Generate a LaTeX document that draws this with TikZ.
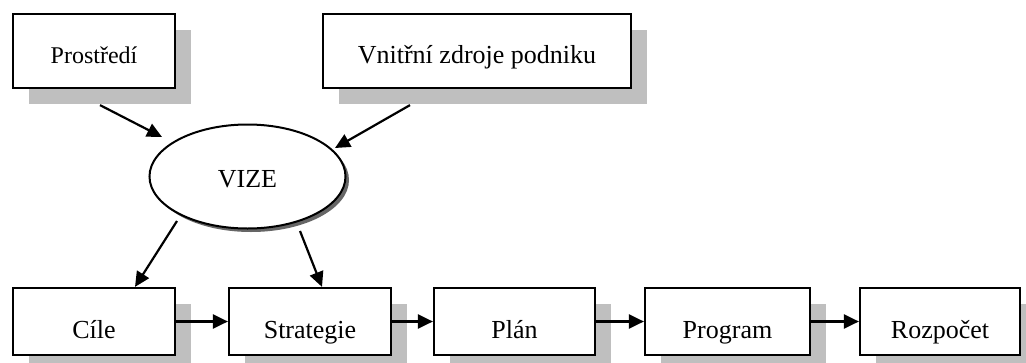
\documentclass[tikz,border=0pt]{standalone}
\usepackage{fontspec}
\setmainfont{Liberation Serif}
\usetikzlibrary{arrows.meta,shadows,calc,shapes.geometric}
\begin{document}
\begin{tikzpicture}[x=1pt,y=-1pt,
  box/.style={draw=black,line width=2.2pt,fill=white,inner sep=0pt,
    font=\fontsize{26}{30}\selectfont,text height=36pt,text depth=3pt,
    drop shadow={shadow xshift=16pt,shadow yshift=-16pt,fill=black!25,opacity=1}},
  topbox/.style={box,text height=28pt,text depth=4pt},
  oval/.style={ellipse,draw=black,line width=2pt,fill=white,inner sep=0pt,
    font=\fontsize{26}{30}\selectfont,text height=25pt,text depth=4pt,
    drop shadow={shadow xshift=3.5pt,shadow yshift=-3.5pt,fill=black!60,opacity=1}},
  arr/.style={line width=2.2pt,-{Triangle[length=15pt,width=14pt]}},
]
\useasboundingbox (0,0) rectangle (1026,362);
\node[topbox,minimum width=162pt,minimum height=74pt,font=\fontsize{24}{28}\selectfont] (p) at (94,51) {Prostředí};
\node[topbox,minimum width=308pt,minimum height=74pt] (z) at (477,51) {Vnitřní zdroje podniku};
\node[oval,minimum width=196pt,minimum height=104pt] (v) at (247.5,176.5) {VIZE};
\node[box,minimum width=162pt,minimum height=67pt] (c) at (94,321.5) {Cíle};
\node[box,minimum width=162pt,minimum height=67pt] (s) at (310,321.5) {Strategie};
\node[box,minimum width=161pt,minimum height=67pt] (pl) at (514.5,321.5) {Plán};
\node[box,minimum width=165pt,minimum height=67pt] (pg) at (727.5,321.5) {Program};
\node[box,minimum width=160pt,minimum height=67pt] (r) at (940,321.5) {Rozpočet};
\draw[arr] ($(p.south)+(6,16)$) -- ($(v.center)+(-85.5,-39.5)$);
\draw[arr] ($(z.south)+(-67,16)$) -- ($(v.center)+(87.5,-28.5)$);
\draw[arr] ($(v.center)+(-70.5,44.5)$) -- ($(c.north)+(41,0)$);
\draw[arr] ($(v.center)+(52.5,54.5)$) -- ($(s.north)+(12,0)$);
\draw[arr] (c.east) -- (s.west);
\draw[arr] (s.east) -- (pl.west);
\draw[arr] (pl.east) -- (pg.west);
\draw[arr] (pg.east) -- (r.west);
\end{tikzpicture}
\end{document}
